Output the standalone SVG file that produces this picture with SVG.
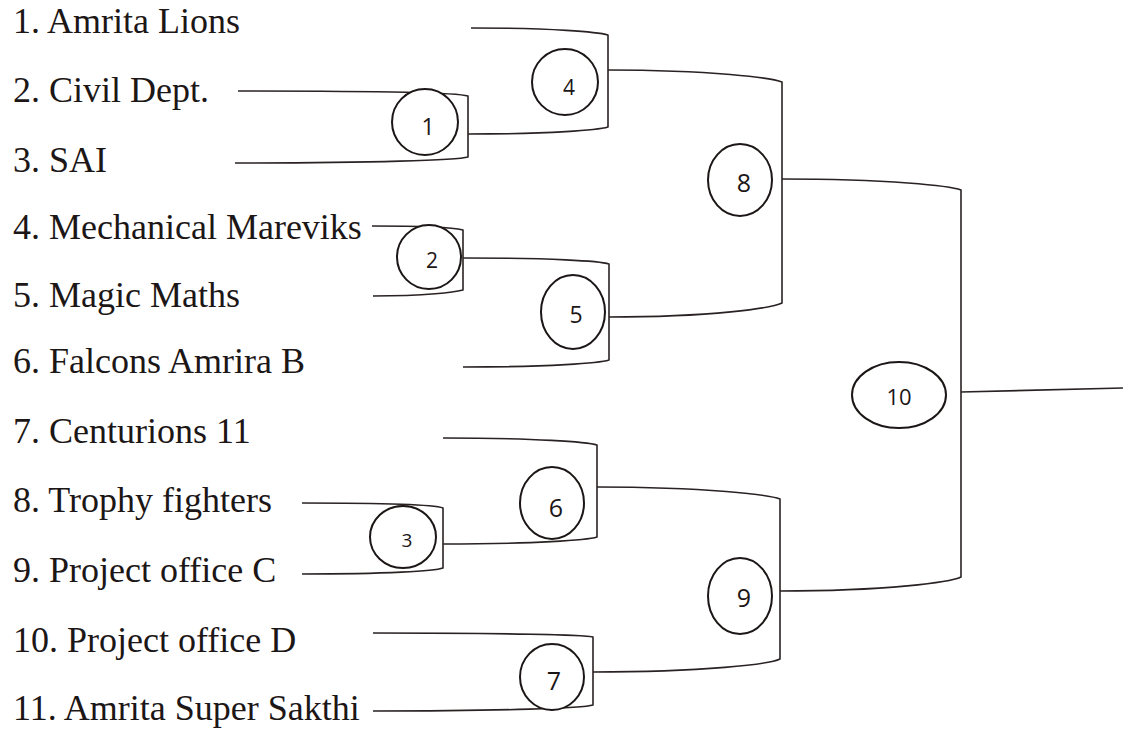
<svg xmlns="http://www.w3.org/2000/svg" width="1123" height="731" viewBox="0 0 1123 731">
<style>
.team{font-family:"Liberation Serif","Times New Roman",serif;font-size:36px;fill:#1c1616}
.ln{fill:none;stroke:#2a2222;stroke-width:1.6;stroke-linejoin:round}
.c{fill:#fff;stroke:#1c1616;stroke-width:2}
.n{font-family:"Open Sans","Liberation Sans",sans-serif;font-size:23px;fill:#1c1616;text-anchor:middle}
</style>
<rect width="1123" height="731" fill="#fff"/>
<g id="teams">
<text class="team" x="13" y="33">1. Amrita Lions</text>
<text class="team" x="13" y="102">2. Civil Dept.</text>
<text class="team" x="13" y="172">3. SAI</text>
<text class="team" x="13" y="239">4. Mechanical Mareviks</text>
<text class="team" x="13" y="307">5. Magic Maths</text>
<text class="team" x="13" y="373">6. Falcons Amrira B</text>
<text class="team" x="13" y="443">7. Centurions 11</text>
<text class="team" x="13" y="512">8. Trophy fighters</text>
<text class="team" x="13" y="582">9. Project office C</text>
<text class="team" x="13" y="652">10. Project office D</text>
<text class="team" x="13" y="720">11. Amrita Super Sakthi</text>
</g>
<g id="connectors">
<path class="ln" d="M238 91 C376 91 458 93 468 96 L468 157 C458 160 373 163 235 163"/>
<path class="ln" d="M471 28 C553 28 598 32 608 35 L608 127 C598 130 552 134 468 134"/>
<path class="ln" d="M372 226 C426 226 455 228 463 230 L463 290 C455 292 427 296 373 296"/>
<path class="ln" d="M463 258 C551 258 600 261 609 264 L609 360 C600 363 551 367 463 367"/>
<path class="ln" d="M608 70 C712 70 772 78 782 82 L782 303 C772 308 713 317 609 317"/>
<path class="ln" d="M302 503 C387 503 435 505 443 508 L443 568 C435 571 387 574 302 574"/>
<path class="ln" d="M443 438 C535 438 588 442 597 445 L597 537 C588 540 535 544 443 544"/>
<path class="ln" d="M373 633 C505 633 584 635 593 637 L593 705 C584 708 505 711 373 711"/>
<path class="ln" d="M597 487 C707 487 770 495 780 499 L780 659 C770 664 705 672 593 672"/>
<path class="ln" d="M782 179 C889 179 951 186 961 190 L961 577 C951 582 888 591 780 591"/>
<path class="ln" d="M961 392 L1123 388"/>
</g>
<g id="m1"><ellipse class="c" cx="425" cy="122" rx="33" ry="33"/><text class="n" x="428" y="135">1</text></g>
<g id="m2"><ellipse class="c" cx="429" cy="257" rx="32" ry="32"/><text class="n" x="432" y="268" style="font-size:21px">2</text></g>
<g id="m3"><ellipse class="c" cx="403" cy="537" rx="33" ry="31"/><text class="n" x="407" y="547" style="font-size:19px">3</text></g>
<g id="m4"><ellipse class="c" cx="565" cy="82" rx="33" ry="33"/><text class="n" x="569" y="95" style="font-size:21px">4</text></g>
<g id="m5"><ellipse class="c" cx="573" cy="312" rx="32" ry="37"/><text class="n" x="576" y="323">5</text></g>
<g id="m6"><ellipse class="c" cx="552" cy="503" rx="32" ry="36"/><text class="n" x="556" y="517" style="font-size:25px">6</text></g>
<g id="m7"><ellipse class="c" cx="552" cy="677" rx="32" ry="33"/><text class="n" x="554" y="690" style="font-size:25px">7</text></g>
<g id="m8"><ellipse class="c" cx="740" cy="180" rx="32" ry="36"/><text class="n" x="744" y="192" style="font-size:25px">8</text></g>
<g id="m9"><ellipse class="c" cx="740" cy="596" rx="32" ry="38"/><text class="n" x="744" y="607" style="font-size:25px">9</text></g>
<g id="m10"><ellipse class="c" cx="899" cy="395" rx="47" ry="33"/><text class="n" x="899" y="405" style="font-size:22px">10</text></g>
</svg>
